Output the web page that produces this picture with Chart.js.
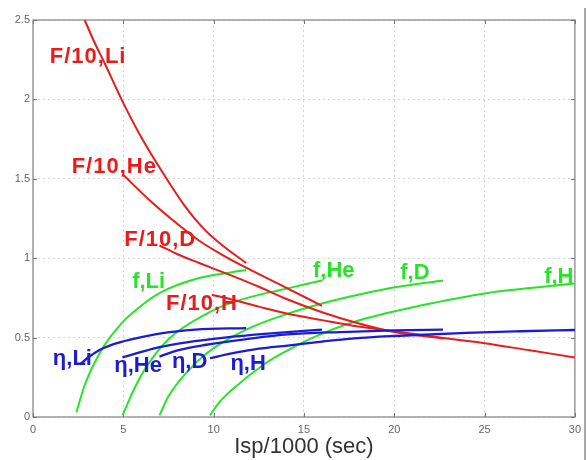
<!DOCTYPE html>
<html>
<head>
<meta charset="utf-8">
<script src="https://cdn.jsdelivr.net/npm/chart.js"></script>
<style>
    html, body { margin: 0; padding: 0; background: #fff; }
    #wrap { width: 587px; height: 460px; position: relative; }
</style>
</head>
<body>
<div id="wrap"><canvas id="chart" width="587" height="460"></canvas></div>
<script>
// Tick values
const xTicks = [0, 5, 10, 15, 20, 25, 30];
const yTicks = [0, 0.5, 1, 1.5, 2, 2.5];

// F/10 curves (red), [Isp/1000, value]
const F_Li = [[2.86, 2.5], [3.4, 2.36], [4.0, 2.22], [4.9, 2.0], [6.0, 1.76], [7.4, 1.5], [8.4, 1.33], [9.5, 1.18], [10.6, 1.07], [11.8, 0.97]];
const F_He = [[4.95, 1.53], [6.5, 1.36], [8.0, 1.215], [9.2, 1.11], [10.5, 1.02], [11.8, 0.94], [14, 0.815], [16, 0.70]];
const F_D  = [[7, 1.08], [8, 1.025], [9.2, 0.97], [11, 0.89], [12.5, 0.82], [14.1, 0.74], [16, 0.66], [18, 0.59], [20, 0.535], [22.7, 0.495]];
const F_H  = [[9.9, 0.77], [11, 0.74], [12.5, 0.695], [14.1, 0.65], [16, 0.61], [18, 0.57], [20, 0.54], [22.5, 0.50], [25, 0.465], [27.5, 0.42], [30, 0.375]];

// f curves (green)
const f_Li = [[2.4, 0.03], [2.86, 0.2], [3.4, 0.34], [4.0, 0.46], [4.9, 0.59], [5.5, 0.655], [7.0, 0.78], [9.2, 0.875], [11.8, 0.925]];
const f_He = [[4.95, 0.01], [5.7, 0.2], [6.3, 0.32], [7.5, 0.49], [9.6, 0.65], [11, 0.72], [12.9, 0.78], [14.1, 0.81], [16, 0.86]];
const f_D  = [[7, 0.01], [7.5, 0.13], [8.5, 0.28], [9.6, 0.40], [11.8, 0.55], [14.1, 0.65], [16, 0.715], [18, 0.77], [20.2, 0.82], [22.7, 0.86]];
const f_H  = [[9.8, 0.01], [10.3, 0.09], [11, 0.17], [12.9, 0.34], [14.1, 0.42], [15.5, 0.5], [17.8, 0.6], [21.4, 0.70], [25.1, 0.78], [30, 0.84]];

// eta curves (blue)
const eta_Li = [[2.6, 0.33], [3.0, 0.37], [3.5, 0.41], [4.5, 0.46], [5.5, 0.49], [7, 0.525], [9, 0.55], [11.8, 0.56]];
const eta_He = [[4.95, 0.375], [6, 0.41], [7, 0.44], [8.5, 0.47], [10.6, 0.50], [13, 0.525], [16, 0.55]];
const eta_D  = [[7, 0.38], [8, 0.42], [9.6, 0.455], [11.8, 0.49], [14.1, 0.52], [17, 0.535], [20, 0.545], [22.7, 0.55]];
const eta_H  = [[9.8, 0.37], [11, 0.40], [12.5, 0.43], [14.1, 0.45], [16, 0.475], [17.8, 0.495], [20, 0.51], [24, 0.53], [27, 0.54], [30, 0.548]];

// In-plot labels: text, x, y (data coords of left/baseline)
const curveLabels = [
    ['F/10,Li', 0.93, 2.23, 'red'], ['F/10,He', 2.14, 1.535, 'red'],
    ['F/10,D', 5.05, 1.075, 'red'], ['F/10,H', 7.36, 0.673, 'red'],
    ['f,Li', 5.49, 0.81, 'green'], ['f,He', 15.5, 0.88, 'green'],
    ['f,D', 20.33, 0.868, 'green'], ['f,H', 28.3, 0.843, 'green'],
    ['\u03B7,Li', 1.1, 0.33, 'blue'], ['\u03B7,He', 4.5, 0.283, 'blue'],
    ['\u03B7,D', 7.69, 0.31, 'blue'], ['\u03B7,H', 10.93, 0.298, 'blue']
];

const colors = { red: 'rgb(232,28,28)', green: 'rgb(40,228,40)', blue: 'rgb(28,28,212)' };

function series(points, color, width) {
    return {
        data: points.map(p => ({ x: p[0], y: p[1] })),
        borderColor: colors[color],
        borderWidth: width,
        showLine: true,
        pointRadius: 0,
        cubicInterpolationMode: 'monotone',
        fill: false
    };
}

// Frame, inward ticks and curve labels
const decorPlugin = {
    id: 'decor',
    beforeDatasetsDraw(chart) {
        const { ctx, chartArea: a, scales: { x, y } } = chart;
        ctx.save();
        ctx.strokeStyle = '#9a9a9a';
        ctx.lineWidth = 1.5;
        ctx.strokeRect(a.left, a.top, a.right - a.left, a.bottom - a.top);
        ctx.lineWidth = 1;
        ctx.strokeStyle = '#777';
        ctx.beginPath();
        xTicks.forEach(v => {
            const px = Math.round(x.getPixelForValue(v)) + 0.5;
            ctx.moveTo(px, a.bottom); ctx.lineTo(px, a.bottom - 4);
            ctx.moveTo(px, a.top); ctx.lineTo(px, a.top + 4);
        });
        yTicks.forEach(v => {
            const py = Math.round(y.getPixelForValue(v)) + 0.5;
            ctx.moveTo(a.left, py); ctx.lineTo(a.left + 4, py);
            ctx.moveTo(a.right, py); ctx.lineTo(a.right - 4, py);
        });
        ctx.stroke();
        // picture edge on the right
        ctx.strokeStyle = '#8a8a8a';
        ctx.lineWidth = 1.5;
        ctx.beginPath();
        ctx.moveTo(chart.width - 2, 8);
        ctx.lineTo(chart.width - 2, chart.height);
        ctx.stroke();
        ctx.restore();
    },
    afterDatasetsDraw(chart) {
        const { ctx, scales: { x, y } } = chart;
        ctx.save();
        ctx.font = 'bold 22px "Liberation Sans", Arial, sans-serif';
        ctx.textBaseline = 'alphabetic';
        ctx.textAlign = 'left';
        curveLabels.forEach(([text, lx, ly, c]) => {
            ctx.fillStyle = colors[c];
            ctx.letterSpacing = c === 'red' ? '1px' : '0px';
            ctx.fillText(text, x.getPixelForValue(lx), y.getPixelForValue(ly));
        });
        ctx.restore();
    }
};

new Chart(document.getElementById('chart'), {
    type: 'scatter',
    data: {
        datasets: [
            series(eta_Li, 'blue', 2.3), series(eta_He, 'blue', 2.3),
            series(eta_D, 'blue', 2.3), series(eta_H, 'blue', 2.3),
            series(F_Li, 'red', 2), series(F_He, 'red', 2),
            series(F_D, 'red', 2), series(F_H, 'red', 2),
            series(f_Li, 'green', 2), series(f_He, 'green', 2),
            series(f_D, 'green', 2), series(f_H, 'green', 2)
        ]
    },
    options: {
        responsive: false,
        animation: false,
        layout: { padding: { top: 20, right: 8, left: 0, bottom: 0 } },
        plugins: { legend: { display: false }, tooltip: { enabled: false } },
        scales: {
            x: {
                type: 'linear', min: 0, max: 30,
                afterBuildTicks: s => { s.ticks = xTicks.map(v => ({ value: v })); },
                afterFit: s => { s.height = 43; },
                grid: { color: 'rgba(0,0,0,0.16)', drawTicks: false },
                border: { display: false, dash: [2, 3] },
                ticks: {
                    padding: 6, maxRotation: 0, autoSkip: false,
                    callback: v => String(v),
                    color: '#666', font: { size: 11, family: '"Liberation Sans", Arial, sans-serif' }
                },
                title: {
                    display: true, text: 'Isp/1000 (sec)', color: '#333',
                    padding: { top: 0, bottom: 0 },
                    font: { size: 22, family: '"Liberation Sans", Arial, sans-serif' }
                }
            },
            y: {
                type: 'linear', min: 0, max: 2.5,
                afterBuildTicks: s => { s.ticks = yTicks.map(v => ({ value: v })); },
                afterFit: s => { s.width = 33; },
                grid: { color: 'rgba(0,0,0,0.16)', drawTicks: false },
                border: { display: false, dash: [2, 3] },
                ticks: {
                    padding: 3,
                    callback: v => String(v),
                    color: '#666', font: { size: 11, family: '"Liberation Sans", Arial, sans-serif' }
                }
            }
        }
    },
    plugins: [decorPlugin]
});
</script>
</body>
</html>
